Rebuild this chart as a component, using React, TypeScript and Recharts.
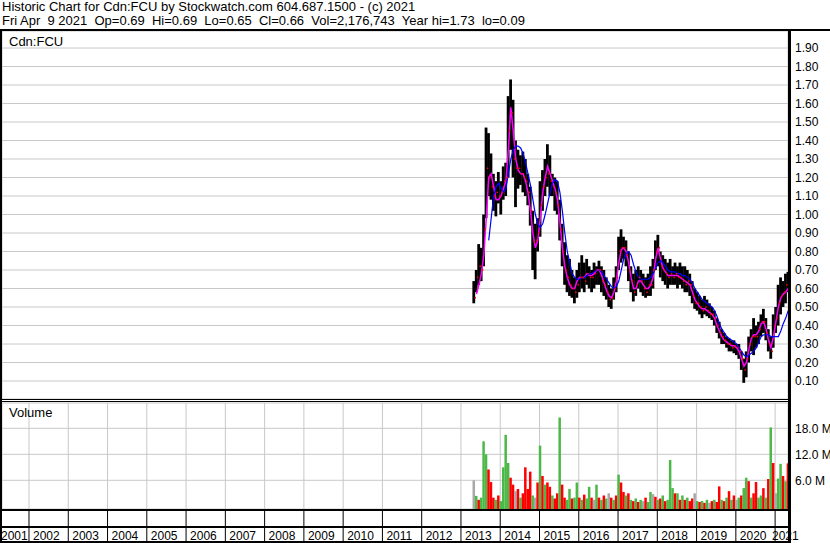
import React from 'react';
import {
  ComposedChart,
  Bar,
  Line,
  Scatter,
  XAxis,
  YAxis,
  CartesianGrid,
  Cell
} from 'recharts';

// one bar per ~3 weeks, first one mid-April 2013
const START_YEAR = 2013.332;
const STEP = 0.0625;

const HI = [
  0.64, 0.70, 0.84, 0.82, 1.00, 1.47, 1.44, 1.33, 1.22, 1.18,
  1.23, 1.18, 1.26, 1.28, 1.64, 1.73, 1.62, 1.40, 1.35, 1.32,
  1.34, 1.30, 1.22, 1.15, 1.02, 0.95, 0.98, 1.18, 1.24, 1.30,
  1.38, 1.32, 1.22, 1.20, 1.18, 1.08, 0.95, 0.85, 0.78, 0.76,
  0.70, 0.66, 0.70, 0.74, 0.78, 0.74, 0.76, 0.72, 0.70, 0.74,
  0.72, 0.75, 0.72, 0.70, 0.66, 0.62, 0.60, 0.66, 0.72, 0.88,
  0.92, 0.88, 0.86, 0.80, 0.72, 0.68, 0.70, 0.72, 0.70, 0.68,
  0.66, 0.68, 0.72, 0.76, 0.86, 0.89, 0.80, 0.78, 0.76, 0.74,
  0.76, 0.72, 0.74, 0.72, 0.74, 0.72, 0.72, 0.70, 0.68, 0.64,
  0.60, 0.58, 0.56, 0.54, 0.56, 0.54, 0.52, 0.50, 0.48, 0.44,
  0.42, 0.38, 0.36, 0.34, 0.33, 0.32, 0.32, 0.30, 0.30, 0.26,
  0.22, 0.26, 0.34, 0.38, 0.44, 0.40, 0.42, 0.46, 0.49, 0.44,
  0.38, 0.34, 0.46, 0.50, 0.62, 0.66, 0.64, 0.68, 0.69
];

const LO = [
  0.52, 0.58, 0.62, 0.64, 0.72, 0.98, 1.10, 1.08, 1.02, 0.99,
  1.06, 1.00, 1.08, 1.10, 1.20, 1.35, 1.20, 1.04, 1.14, 1.16,
  1.12, 1.10, 1.05, 0.94, 0.70, 0.65, 0.80, 0.88, 1.02, 1.10,
  1.15, 1.10, 1.10, 1.02, 1.00, 0.86, 0.72, 0.62, 0.58, 0.56,
  0.55, 0.52, 0.55, 0.58, 0.60, 0.58, 0.62, 0.60, 0.58, 0.60,
  0.62, 0.62, 0.58, 0.56, 0.54, 0.50, 0.49, 0.54, 0.58, 0.70,
  0.74, 0.76, 0.72, 0.64, 0.58, 0.53, 0.56, 0.60, 0.58, 0.56,
  0.55, 0.56, 0.56, 0.60, 0.70, 0.72, 0.66, 0.64, 0.62, 0.60,
  0.62, 0.62, 0.62, 0.60, 0.62, 0.60, 0.58, 0.58, 0.56, 0.52,
  0.49, 0.48, 0.46, 0.44, 0.46, 0.45, 0.44, 0.43, 0.40, 0.36,
  0.33, 0.30, 0.30, 0.28, 0.26, 0.26, 0.25, 0.24, 0.22, 0.16,
  0.09, 0.12, 0.20, 0.26, 0.24, 0.28, 0.30, 0.34, 0.36, 0.32,
  0.26, 0.22, 0.28, 0.36, 0.40, 0.46, 0.50, 0.52, 0.58
];

const CLOSE = [
  0.55, 0.66, 0.72, 0.70, 0.92, 1.25, 1.20, 1.15, 1.10, 1.12,
  1.10, 1.12, 1.18, 1.20, 1.45, 1.55, 1.30, 1.25, 1.25, 1.22,
  1.20, 1.18, 1.12, 1.02, 0.85, 0.86, 0.90, 1.05, 1.15, 1.20,
  1.22, 1.18, 1.15, 1.12, 1.05, 0.92, 0.80, 0.70, 0.66, 0.62,
  0.60, 0.58, 0.62, 0.66, 0.66, 0.64, 0.68, 0.66, 0.66, 0.68,
  0.70, 0.70, 0.64, 0.62, 0.58, 0.54, 0.55, 0.60, 0.66, 0.80,
  0.82, 0.82, 0.78, 0.70, 0.64, 0.58, 0.62, 0.66, 0.64, 0.60,
  0.58, 0.62, 0.62, 0.70, 0.80, 0.82, 0.72, 0.70, 0.68, 0.66,
  0.68, 0.66, 0.68, 0.66, 0.66, 0.64, 0.62, 0.64, 0.62, 0.56,
  0.52, 0.52, 0.50, 0.48, 0.50, 0.48, 0.46, 0.46, 0.44, 0.40,
  0.36, 0.34, 0.32, 0.30, 0.30, 0.28, 0.29, 0.28, 0.26, 0.22,
  0.16, 0.22, 0.30, 0.34, 0.34, 0.34, 0.38, 0.42, 0.42, 0.36,
  0.30, 0.26, 0.40, 0.44, 0.52, 0.56, 0.58, 0.62, 0.66
];

// magenta (short) and blue (long) averages as drawn on the chart
const MA_FAST = [
  null, 0.57, 0.62, 0.68, 0.78, 0.98, 1.20, 1.22, 1.15, 1.08,
  1.08, 1.10, 1.14, 1.18, 1.35, 1.58, 1.45, 1.30, 1.24, 1.22,
  1.22, 1.18, 1.12, 1.02, 0.90, 0.82, 0.86, 0.98, 1.12, 1.20,
  1.26, 1.22, 1.18, 1.14, 1.08, 0.96, 0.82, 0.72, 0.66, 0.62,
  0.60, 0.60, 0.64, 0.66, 0.66, 0.66, 0.68, 0.67, 0.67, 0.68,
  0.70, 0.70, 0.67, 0.63, 0.59, 0.56, 0.55, 0.58, 0.64, 0.74,
  0.81, 0.82, 0.80, 0.74, 0.66, 0.60, 0.60, 0.64, 0.64, 0.62,
  0.60, 0.60, 0.62, 0.66, 0.76, 0.82, 0.76, 0.71, 0.69, 0.67,
  0.67, 0.67, 0.67, 0.67, 0.66, 0.65, 0.64, 0.63, 0.62, 0.58,
  0.54, 0.52, 0.50, 0.49, 0.49, 0.48, 0.47, 0.46, 0.44, 0.40,
  0.37, 0.34, 0.32, 0.31, 0.30, 0.29, 0.29, 0.28, 0.26, 0.22,
  0.18, 0.20, 0.27, 0.33, 0.35, 0.35, 0.37, 0.41, 0.42, 0.38,
  0.32, 0.28, 0.34, 0.42, 0.50, 0.55, 0.57, 0.58, 0.60
];

const MA_SLOW = [
  null, null, null, null, null, null, 0.86, 0.98, 1.10, 1.15,
  1.17, 1.14, 1.12, 1.14, 1.22, 1.30, 1.35, 1.37, 1.37, 1.36,
  1.33, 1.28, 1.22, 1.16, 1.08, 1.00, 0.95, 0.93, 0.95, 1.00,
  1.06, 1.12, 1.17, 1.19, 1.18, 1.12, 1.02, 0.90, 0.80, 0.74,
  0.68, 0.66, 0.65, 0.65, 0.66, 0.66, 0.67, 0.68, 0.68, 0.69,
  0.70, 0.70, 0.69, 0.67, 0.65, 0.63, 0.61, 0.60, 0.61, 0.64,
  0.70, 0.76, 0.79, 0.80, 0.78, 0.73, 0.69, 0.66, 0.65, 0.65,
  0.65, 0.65, 0.66, 0.68, 0.71, 0.74, 0.75, 0.74, 0.72, 0.70,
  0.69, 0.69, 0.69, 0.68, 0.68, 0.67, 0.67, 0.66, 0.65, 0.63,
  0.60, 0.58, 0.56, 0.54, 0.53, 0.52, 0.51, 0.50, 0.48, 0.45,
  0.41, 0.38, 0.36, 0.34, 0.33, 0.32, 0.31, 0.30, 0.28, 0.26,
  0.24, 0.23, 0.24, 0.25, 0.26, 0.28, 0.31, 0.34, 0.35, 0.35,
  0.35, 0.34, 0.34, 0.34, 0.34, 0.37, 0.41, 0.44, 0.48
];

// millions of shares
const VOLUME = [
  6.0, 2.4, 1.5, 2.0, 15.0, 12.0, 8.5, 5.6, 2.0, 1.5,
  2.5, 1.2, 9.0, 16.5, 10.0, 6.6, 5.0, 3.5, 4.0, 2.0,
  3.0, 9.0, 4.0, 8.0, 2.5, 2.0, 5.5, 14.0, 7.0, 5.0,
  5.5, 4.5, 2.5, 1.8, 3.0, 20.5, 5.0, 2.0, 1.5, 4.0,
  1.8, 2.0, 5.5, 2.0, 1.5, 2.7, 1.8, 4.5, 2.0, 1.5,
  5.0, 2.0, 1.5, 2.5, 1.8, 3.0, 2.0, 1.5, 2.5, 7.3,
  5.5, 3.3, 2.5, 3.0, 1.5, 1.2, 1.8, 1.0, 1.5, 1.2,
  2.0, 1.0, 3.3, 2.8, 2.2, 1.5, 1.8, 2.5, 1.2, 1.5,
  10.7, 4.2, 3.0, 3.0, 1.5, 2.5, 1.5, 2.0, 1.2, 1.8,
  3.0, 1.2, 1.0, 1.2, 0.8, 1.5, 0.8, 1.2, 1.5, 1.0,
  4.6, 1.5, 1.2, 2.0, 3.5, 1.5, 2.5, 1.5, 2.0, 2.5,
  4.2, 6.6, 5.8, 2.0, 3.0, 5.6, 2.0, 2.5, 4.2, 2.0,
  6.3, 18.2, 10.0, 3.0, 6.4, 9.8, 7.0, 5.8, 9.9
];

// g = up, r = down, n = unchanged
const VOL_DIR = (
  'ngrgggrrrg' + 'rggggrrnrg' + 'rrrrgnrgrg' + 'rrgrrgrrgg' +
  'rggrgrggrn' + 'grgrgnrgrg' + 'rrgrgrgrgn' + 'rggnrgrgrg' +
  'ggrgrgrgrr' + 'ngrgrgnrgr' + 'rgrgrgrngr' + 'ggrgrrggrg' +
  'rgrnggrgr'
).split('');

const YEARS = [
  2001, 2002, 2003, 2004, 2005, 2006, 2007, 2008, 2009, 2010, 2011,
  2012, 2013, 2014, 2015, 2016, 2017, 2018, 2019, 2020, 2021
];
const PRICE_TICKS = [
  0.1, 0.2, 0.3, 0.4, 0.5, 0.6, 0.7, 0.8, 0.9, 1.0,
  1.1, 1.2, 1.3, 1.4, 1.5, 1.6, 1.7, 1.8, 1.9
];
const VOLUME_TICKS = [6, 12, 18];

const DIR_COLORS: Record<string, string> = {
  g: '#4cb848',
  r: '#ff0000',
  n: '#a8a8a8'
};

const X_DOMAIN = [2001.3125, 2021.328];
const PRICE_DOMAIN = [0.0027, 1.992];
const VOL_DOMAIN = [-0.62, 23.84];

const GRID = '#c8c8c8';
const FONT = '"Liberation Sans", Arial, sans-serif';
const AXIS_TOP = 107; // top of the year strip inside the volume chart
const PLOT_RIGHT = 788;

const rows = HI.map((hi, i) => ({
  t: START_YEAR + i * STEP,
  hi,
  lo: LO[i],
  close: CLOSE[i],
  fast: MA_FAST[i],
  slow: MA_SLOW[i],
  vol: VOLUME[i],
  dir: VOL_DIR[i]
}));

function YearTick(props: any) {
  const { x, payload } = props;
  const labelX = Math.max(1, Math.min(x + 4, PLOT_RIGHT - 16));
  return (
    <g>
      <line x1={x} x2={x} y1={AXIS_TOP} y2={AXIS_TOP + 34} stroke="#000" strokeWidth={1} />
      <text x={labelX} y={AXIS_TOP + 30.5} fontSize={12} fill="#000">
        {payload.value}
      </text>
    </g>
  );
}

// plain text tick so recharts doesn't wrap "18.0 M"
function makeSideTick(fmt: (v: number) => string) {
  return function SideTick(props: any) {
    const { x, y, payload } = props;
    return (
      <text x={x} y={y} dy="0.355em" fontSize={12} fill="#000" textAnchor="start">
        {fmt(payload.value)}
      </text>
    );
  };
}
const PriceTick = makeSideTick((v) => v.toFixed(2));
const VolumeTick = makeSideTick((v) => `${v.toFixed(1)} M`);

// bars centred on their date, a bit wider than recharts gives on a number axis
function makeSlimBar(w: number) {
  return function SlimBar(props: any) {
    const { x, y, width, height, fill } = props;
    if (x == null || y == null) return null;
    const cx = x + width / 2;
    return <rect x={cx - w / 2} y={y} width={w} height={Math.max(height, 1)} fill={fill} />;
  };
}
const HiLoShape = makeSlimBar(2.8);
const VolShape = makeSlimBar(2.5);

function CloseTick(props: any) {
  const { cx, cy } = props;
  if (cx == null || cy == null) return null;
  return <rect x={cx + 0.5} y={cy - 0.75} width={1.5} height={1.5} fill="#ff0000" />;
}

function Rule({ left, top, width, height }: { left: number; top: number; width: number; height: number }) {
  return (
    <div style={{ position: 'absolute', left, top, width, height, background: '#000' }} />
  );
}

export default function App() {
  return (
    <div
      style={{
        position: 'absolute',
        left: 0,
        top: 0,
        width: 830,
        height: 543,
        background: '#fff',
        fontFamily: FONT,
        color: '#000',
        overflow: 'hidden'
      }}
    >
      <div style={{ position: 'absolute', left: 2, top: 0, fontSize: 13, lineHeight: '14px', whiteSpace: 'pre' }}>
        <div>Historic Chart for Cdn:FCU by Stockwatch.com 604.687.1500 - (c) 2021</div>
        <div>Fri Apr  9 2021  Op=0.69  Hi=0.69  Lo=0.65  Cl=0.66  Vol=2,176,743  Year hi=1.73  lo=0.09</div>
      </div>

      <div style={{ position: 'absolute', left: 0, top: 31 }}>
        <ComposedChart width={830} height={368} data={rows} margin={{ top: 0, right: 2, bottom: 0, left: 2 }}>
          <CartesianGrid stroke={GRID} strokeWidth={1} />
          <XAxis
            dataKey="t"
            type="number"
            domain={X_DOMAIN}
            allowDataOverflow
            ticks={YEARS}
            interval={0}
            height={0}
            tick={false}
            axisLine={false}
            tickLine={false}
          />
          <YAxis
            orientation="right"
            width={40}
            domain={PRICE_DOMAIN}
            allowDataOverflow
            ticks={PRICE_TICKS}
            interval={0}
            tick={<PriceTick />}
            tickSize={5}
            tickMargin={2}
            axisLine={false}
            tickLine={false}
          />
          <Bar
            dataKey={(d: any) => [d.lo, d.hi]}
            fill="#000"
            barSize={2}
            shape={<HiLoShape />}
            isAnimationActive={false}
          />
          <Scatter dataKey="close" shape={<CloseTick />} isAnimationActive={false} />
          <Line
            dataKey="fast"
            stroke="#ff00ff"
            strokeWidth={1.5}
            dot={false}
            type="linear"
            isAnimationActive={false}
          />
          <Line
            dataKey="slow"
            stroke="#0000ff"
            strokeWidth={1.2}
            dot={false}
            type="linear"
            isAnimationActive={false}
          />
        </ComposedChart>
      </div>

      <div style={{ position: 'absolute', left: 0, top: 402 }}>
        <ComposedChart width={830} height={141} data={rows} margin={{ top: 1, right: 2, bottom: 0, left: 2 }}>
          <CartesianGrid stroke={GRID} strokeWidth={1} />
          <XAxis
            dataKey="t"
            type="number"
            domain={X_DOMAIN}
            allowDataOverflow
            ticks={YEARS}
            interval={0}
            height={34}
            tick={<YearTick />}
            axisLine={false}
            tickLine={false}
          />
          <YAxis
            orientation="right"
            width={40}
            domain={VOL_DOMAIN}
            allowDataOverflow
            ticks={VOLUME_TICKS}
            interval={0}
            tick={<VolumeTick />}
            tickSize={5}
            tickMargin={2}
            axisLine={false}
            tickLine={false}
          />
          <Bar
            dataKey={(d: any) => [VOL_DOMAIN[0], d.vol]}
            barSize={2}
            shape={<VolShape />}
            isAnimationActive={false}
          >
            {rows.map((r, i) => (
              <Cell key={i} fill={DIR_COLORS[r.dir]} />
            ))}
          </Bar>
        </ComposedChart>
      </div>

      <div style={{ position: 'absolute', left: 9, top: 35, fontSize: 13, lineHeight: '14px' }}>Cdn:FCU</div>
      <div style={{ position: 'absolute', left: 9, top: 406, fontSize: 13, lineHeight: '14px' }}>Volume</div>

      <Rule left={0} top={29} width={830} height={2} />
      <Rule left={0} top={29} width={2} height={514} />
      <Rule left={788} top={29} width={3} height={514} />
      <Rule left={0} top={399} width={791} height={1} />
      <Rule left={0} top={401} width={791} height={1} />
      <Rule left={0} top={509} width={791} height={2} />
      <Rule left={0} top={526} width={791} height={2} />
      <Rule left={0} top={541} width={791} height={2} />
    </div>
  );
}
